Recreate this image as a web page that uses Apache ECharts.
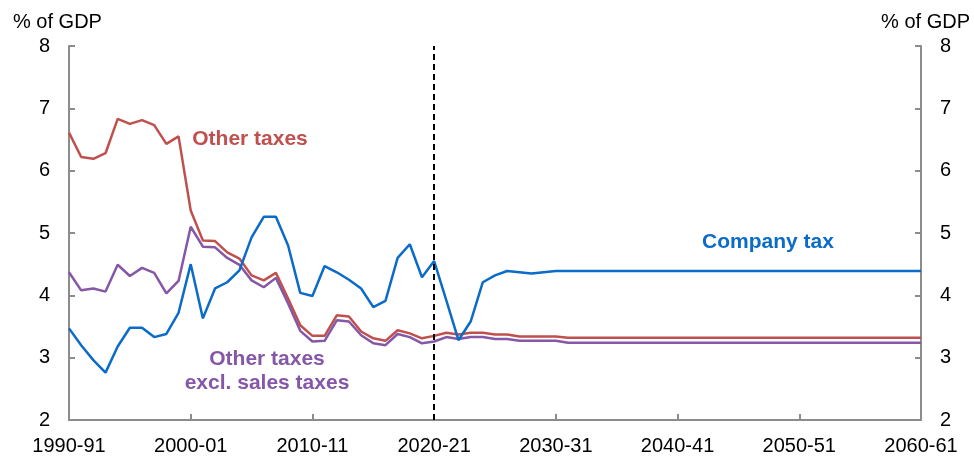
<!DOCTYPE html>
<html>
<head>
<meta charset="utf-8">
<script src="https://cdn.jsdelivr.net/npm/echarts@6/dist/echarts.min.js"></script>
<style>html,body{margin:0;padding:0;background:#fff}#c{width:974px;height:457px}</style>
</head>
<body>
<div id="c"></div>
<script>
const years = ['1990-91','1991-92','1992-93','1993-94','1994-95','1995-96','1996-97','1997-98','1998-99','1999-00',
'2000-01','2001-02','2002-03','2003-04','2004-05','2005-06','2006-07','2007-08','2008-09','2009-10',
'2010-11','2011-12','2012-13','2013-14','2014-15','2015-16','2016-17','2017-18','2018-19','2019-20',
'2020-21','2021-22','2022-23','2023-24','2024-25','2025-26','2026-27','2027-28','2028-29','2029-30',
'2030-31','2031-32','2032-33','2033-34','2034-35','2035-36','2036-37','2037-38','2038-39','2039-40',
'2040-41','2041-42','2042-43','2043-44','2044-45','2045-46','2046-47','2047-48','2048-49','2049-50',
'2050-51','2051-52','2052-53','2053-54','2054-55','2055-56','2056-57','2057-58','2058-59','2059-60',
'2060-61'];

const companyTax = [3.47,3.20,2.96,2.76,3.18,3.48,3.48,3.33,3.38,3.72,
4.50,3.63,4.11,4.21,4.40,4.93,5.26,5.26,4.80,4.04,
3.99,4.47,4.37,4.25,4.11,3.81,3.91,4.60,4.82,4.29,
4.55,3.92,3.28,3.58,4.21,4.32,4.39,4.37,4.35,4.37,
4.39,4.39,4.39,4.39,4.39,4.39,4.39,4.39,4.39,4.39,
4.39,4.39,4.39,4.39,4.39,4.39,4.39,4.39,4.39,4.39,
4.39,4.39,4.39,4.39,4.39,4.39,4.39,4.39,4.39,4.39,
4.39];

const otherTaxes = [6.61,6.22,6.19,6.28,6.83,6.75,6.81,6.73,6.43,6.55,
5.36,4.88,4.87,4.69,4.59,4.32,4.24,4.36,3.95,3.52,
3.35,3.35,3.68,3.66,3.42,3.31,3.27,3.44,3.39,3.31,
3.35,3.40,3.37,3.40,3.40,3.37,3.37,3.34,3.34,3.34,
3.34,3.32,3.32,3.32,3.32,3.32,3.32,3.32,3.32,3.32,
3.32,3.32,3.32,3.32,3.32,3.32,3.32,3.32,3.32,3.32,
3.32,3.32,3.32,3.32,3.32,3.32,3.32,3.32,3.32,3.32,
3.32];

const otherExclSales = [4.37,4.08,4.11,4.06,4.49,4.31,4.44,4.36,4.03,4.23,
5.10,4.78,4.77,4.60,4.49,4.24,4.13,4.28,3.87,3.43,
3.26,3.27,3.60,3.58,3.36,3.23,3.20,3.38,3.33,3.23,
3.26,3.33,3.30,3.33,3.33,3.30,3.30,3.27,3.27,3.27,
3.27,3.24,3.24,3.24,3.24,3.24,3.24,3.24,3.24,3.24,
3.24,3.24,3.24,3.24,3.24,3.24,3.24,3.24,3.24,3.24,
3.24,3.24,3.24,3.24,3.24,3.24,3.24,3.24,3.24,3.24,
3.24];

const yTicks = [2,3,4,5,6,7,8];
const dividerYear = '2020-21';

const FONT = '"Liberation Sans", Arial, sans-serif';
const AXIS_GREY = '#8c8c8c';
const RED = '#C0504D', BLUE = '#0A6BC8', PURPLE = '#8557A6';

const chart = echarts.init(document.getElementById('c'), null, {renderer: 'canvas'});

const yAxisBase = {
  type: 'value', min: yTicks[0], max: yTicks[yTicks.length - 1], interval: 1,
  splitLine: {show: false},
  axisLine: {show: true, lineStyle: {color: AXIS_GREY, width: 2}},
  axisTick: {show: true, inside: true, length: 6, lineStyle: {color: AXIS_GREY, width: 2}},
  axisLabel: {color: '#000', fontSize: 20, fontFamily: FONT, margin: 19}
};

chart.setOption({
  animation: false,
  backgroundColor: '#fff',
  grid: {left: 69, right: 53, top: 46, bottom: 37, containLabel: false},
  xAxis: {
    type: 'category', data: years, boundaryGap: false,
    axisLine: {show: true, onZero: false, lineStyle: {color: AXIS_GREY, width: 2}},
    axisTick: {show: true, inside: true, length: 6, interval: 9, lineStyle: {color: AXIS_GREY, width: 2}},
    axisLabel: {interval: 9, color: '#000', fontSize: 20, fontFamily: FONT, margin: 16, showMaxLabel: true},
    splitLine: {show: false}
  },
  yAxis: [
    Object.assign({}, yAxisBase, {position: 'left'}),
    Object.assign({}, yAxisBase, {position: 'right'})
  ],
  graphic: [
    {type: 'text', left: 13, top: 12, style: {text: '% of GDP', fontSize: 20, fontFamily: FONT, fill: '#000'}},
    {type: 'text', right: 4, top: 12, style: {text: '% of GDP', fontSize: 20, fontFamily: FONT, fill: '#000'}},
    {type: 'text', x: 250, y: 139, style: {text: 'Other taxes', fontSize: 21, fontWeight: 'bold', fontFamily: FONT, fill: RED, align: 'center', verticalAlign: 'middle'}},
    {type: 'text', x: 768, y: 242, style: {text: 'Company tax', fontSize: 21, fontWeight: 'bold', fontFamily: FONT, fill: BLUE, align: 'center', verticalAlign: 'middle'}},
    {type: 'text', x: 267, y: 371, style: {text: 'Other taxes\nexcl. sales taxes', fontSize: 21, lineHeight: 24, fontWeight: 'bold', fontFamily: FONT, fill: PURPLE, align: 'center', verticalAlign: 'middle'}}
  ],
  series: [
    {
      name: 'Other taxes', type: 'line', data: otherTaxes, symbol: 'none',
      lineStyle: {color: RED, width: 2.5}, z: 2,
      markLine: {
        silent: true, symbol: 'none', label: {show: false},
        lineStyle: {color: '#000', type: [6, 4], width: 2},
        data: [{xAxis: dividerYear}]
      }
    },
    {name: 'Other taxes excl. sales taxes', type: 'line', data: otherExclSales, symbol: 'none', lineStyle: {color: PURPLE, width: 2.5}, z: 3},
    {name: 'Company tax', type: 'line', data: companyTax, symbol: 'none', lineStyle: {color: BLUE, width: 2.5}, z: 4}
  ]
});
</script>
</body>
</html>
